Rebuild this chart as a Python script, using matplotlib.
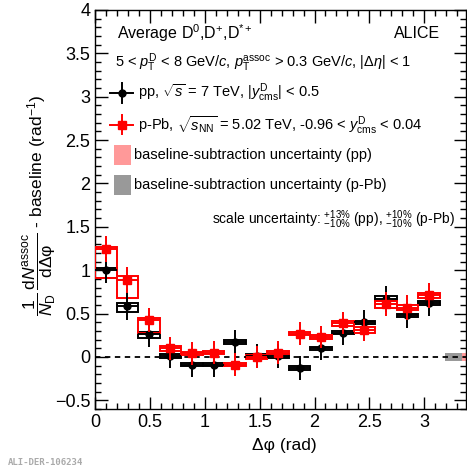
import numpy as np
import matplotlib
matplotlib.use('Agg')
import matplotlib.pyplot as plt
from matplotlib.patches import Rectangle
from matplotlib.ticker import MultipleLocator

plt.rcParams['font.family'] = ['Liberation Sans', 'DejaVu Sans']
plt.rcParams['mathtext.fontset'] = 'custom'
plt.rcParams['mathtext.rm'] = 'Liberation Sans'
plt.rcParams['mathtext.it'] = 'Liberation Sans:italic'
plt.rcParams['mathtext.bf'] = 'Liberation Sans:bold'

# bin centres (16 bins of pi/16)
dphi = (np.arange(16) + 0.5) * np.pi / 16
half_bin = np.pi / 32

# pp, sqrt(s) = 7 TeV
pp_y = [1.00, 0.59, 0.26, 0.01, -0.09, -0.09, 0.17, 0.01, 0.01, -0.13, 0.10, 0.28, 0.40, 0.67, 0.48, 0.62]
pp_stat = [0.15, 0.16, 0.15, 0.14, 0.14, 0.14, 0.14, 0.14, 0.14, 0.14, 0.14, 0.14, 0.14, 0.15, 0.15, 0.15]
pp_sys_up = [0.02, 0.03, 0.03, 0.02, 0.02, 0.02, 0.02, 0.02, 0.02, 0.02, 0.02, 0.02, 0.02, 0.03, 0.02, 0.02]
pp_sys_dn = [0.09, 0.07, 0.04, 0.02, 0.02, 0.02, 0.02, 0.02, 0.02, 0.02, 0.02, 0.02, 0.02, 0.03, 0.02, 0.02]

# p-Pb, sqrt(sNN) = 5.02 TeV
ppb_y = [1.25, 0.89, 0.43, 0.10, 0.04, 0.05, -0.09, 0.00, 0.05, 0.27, 0.23, 0.39, 0.31, 0.61, 0.57, 0.71]
ppb_stat = [0.15, 0.15, 0.14, 0.13, 0.13, 0.13, 0.13, 0.13, 0.13, 0.13, 0.13, 0.13, 0.13, 0.14, 0.14, 0.14]
ppb_sys_up = [0.02, 0.04, 0.02, 0.03, 0.02, 0.02, 0.02, 0.02, 0.02, 0.02, 0.02, 0.03, 0.03, 0.04, 0.03, 0.03]
ppb_sys_dn = [0.34, 0.21, 0.15, 0.03, 0.02, 0.02, 0.02, 0.02, 0.02, 0.02, 0.02, 0.03, 0.03, 0.04, 0.03, 0.03]

# baseline-subtraction uncertainty boxes drawn at the right edge
base_unc_pp = 0.05
base_unc_ppb = 0.05

fig = plt.figure(figsize=(4.67, 4.70), dpi=100)
ax = fig.add_axes([0.2034, 0.1298, 0.7944, 0.849])

# systematic boxes
for x, y, u, d in zip(dphi, pp_y, pp_sys_up, pp_sys_dn):
    ax.add_patch(Rectangle((x - half_bin, y - d), 2 * half_bin, u + d,
                           fill=False, edgecolor='black', lw=1.4, zorder=3))
for x, y, u, d in zip(dphi, ppb_y, ppb_sys_up, ppb_sys_dn):
    ax.add_patch(Rectangle((x - half_bin, y - d), 2 * half_bin, u + d,
                           facecolor='none', edgecolor='red', lw=1.4, zorder=3))

# baseline uncertainty boxes
ax.add_patch(Rectangle((3.19, -base_unc_ppb), 0.15, 2 * base_unc_ppb,
                       facecolor='#999999', edgecolor='none', zorder=2))
ax.add_patch(Rectangle((3.34, -base_unc_pp), 0.15, 2 * base_unc_pp,
                       facecolor='#ff9999', edgecolor='none', zorder=2))

ax.axhline(0, color='black', lw=1.3, ls=(0, (3, 2.5)), zorder=4)

ax.errorbar(dphi, pp_y, yerr=pp_stat, xerr=half_bin, fmt='o', color='black',
            ms=5, lw=1.4, capsize=0, zorder=5)
ax.errorbar(dphi, ppb_y, yerr=ppb_stat, xerr=half_bin, fmt='s', color='red',
            ms=6, lw=1.4, capsize=0, zorder=6)

ax.set_xlim(0, 3.38)
ax.set_ylim(-0.6, 4)
ax.xaxis.set_major_locator(MultipleLocator(0.5))
ax.xaxis.set_minor_locator(MultipleLocator(0.1))
ax.yaxis.set_major_locator(MultipleLocator(0.5))
ax.yaxis.set_minor_locator(MultipleLocator(0.1))
ax.tick_params(which='both', direction='in', top=True, right=True, labelsize=13, width=1)
ax.tick_params(which='major', length=9)
ax.tick_params(which='minor', length=4.5)
ax.xaxis.set_major_formatter(plt.FuncFormatter(lambda v, p: ('%g' % v).replace('-', '\u2212')))
ax.yaxis.set_major_formatter(plt.FuncFormatter(lambda v, p: ('%g' % v).replace('-', '\u2212')))
for s in ax.spines.values():
    s.set_linewidth(1)

# texts
ax.text(0.059, 0.942, r'Average D$^{0}$,D$^{+}$,D$^{*+}$', transform=ax.transAxes,
        fontsize=11.5, va='center')
ax.text(0.93, 0.942, 'ALICE', transform=ax.transAxes, fontsize=11.5, va='center', ha='right')
ax.text(0.054, 0.867,
        r'5 < $p_{\rm T}^{\rm D}$ < 8 GeV/$c$, $p_{\rm T}^{\rm assoc}$ > 0.3 GeV/$c$, |$\Delta\eta$| < 1',
        transform=ax.transAxes, fontsize=10.5, va='center')

# legend entries
for yl, c, m, ms in [(0.792, 'black', 'o', 5), (0.712, 'red', 's', 6)]:
    ax.plot([0.04, 0.102], [yl, yl], color=c, lw=1.4, transform=ax.transAxes, clip_on=False)
    ax.plot([0.073, 0.073], [yl - 0.024, yl + 0.024], color=c, lw=1.4, transform=ax.transAxes)
    ax.plot([0.073], [yl], marker=m, color=c, ms=ms, transform=ax.transAxes)
ax.text(0.116, 0.792, r'pp, $\sqrt{s}$ = 7 TeV, |$y^{\rm D}_{\rm cms}$| < 0.5',
        transform=ax.transAxes, fontsize=10.5, va='center')
ax.text(0.116, 0.712, r'p-Pb, $\sqrt{s_{\rm NN}}$ = 5.02 TeV, -0.96 < $y^{\rm D}_{\rm cms}$ < 0.04',
        transform=ax.transAxes, fontsize=10.5, va='center')

ax.add_patch(Rectangle((0.051, 0.612), 0.046, 0.05, transform=ax.transAxes,
                       facecolor='#ff9999', edgecolor='none'))
ax.text(0.105, 0.637, 'baseline-subtraction uncertainty (pp)', transform=ax.transAxes,
        fontsize=10.5, va='center')
ax.add_patch(Rectangle((0.051, 0.536), 0.046, 0.05, transform=ax.transAxes,
                       facecolor='#999999', edgecolor='none'))
ax.text(0.105, 0.561, 'baseline-subtraction uncertainty (p-Pb)', transform=ax.transAxes,
        fontsize=10.5, va='center')

ax.text(0.97, 0.474, r'scale uncertainty: $^{+13\%}_{-10\%}$ (pp), $^{+10\%}_{-10\%}$ (p-Pb)',
        transform=ax.transAxes, fontsize=10, va='center', ha='right')

fig.text(0.086, 0.564,
         r'$\dfrac{1}{N_{\rm D}}\,\dfrac{{\rm d}N^{\rm assoc}}{{\rm d}\Delta\mathrm{\varphi}}$ - baseline (rad$^{-1}$)',
         rotation=90, fontsize=12.5, ha='center', va='center')
fig.text(0.677, 0.053, 'Δφ (rad)', fontsize=12.5, ha='right', va='center')
fig.text(0.017, 0.015, 'ALI-DER-106234', fontsize=6.5, family='DejaVu Sans Mono',
         color='#aaaaaa', weight='bold', va='center')

fig.savefig('out.png', dpi=100)
